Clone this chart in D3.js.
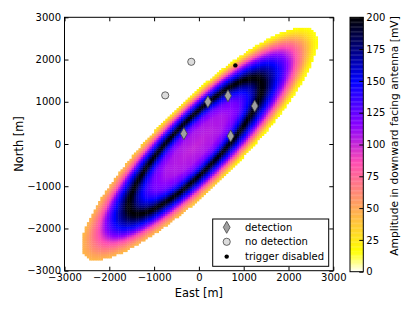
<!DOCTYPE html>
<html>
<head>
<meta charset="utf-8">
<script src="https://cdn.jsdelivr.net/npm/d3@7"></script>
<style>
  body { margin: 0; background: #fff; }
  svg text { font-family: "DejaVu Sans", sans-serif; fill: #000; }
</style>
</head>
<body>
<div id="chart"></div>
<script>
// marker positions [m]
var detectionEast = [-336, 201, 649, 1246, 709];
var detectionNorth = [244, 1000, 1142, 898, 189];
var noDetectionEast = [-170, -752];
var noDetectionNorth = [1946, 1151];
var disabledEast = [814];
var disabledNorth = [1861];

// footprint geometry: center [m], semi axes [m], angle [deg]
var ringCenter = [-80, -45];
var ringAxes = [2110, 545];
var ringAngle = [47.7];
var edgeCenter = [10, 10];
var edgeAxes = [3690, 940];
var edgeAngle = [46.5];

// amplitude profiles [mV]: inside ring (0 = center, 1 = ring), outside ring (0 = ring, 1 = edge)
var innerPos = [0, 0.45, 0.65, 0.78, 0.88, 0.95, 1];
var innerAmp = [101, 108, 122, 145, 170, 192, 200];
var outerPos = [0, 0.06, 0.18, 0.32, 0.46, 0.6, 0.76, 0.9, 1];
var outerAmpTail = [200, 195, 170, 145, 118, 88, 55, 28, 14];   // towards north-east
var outerAmpHead = [200, 195, 172, 148, 122, 92, 68, 52, 44];   // towards south-west

var axisTicks = [-3000, -2000, -1000, 0, 1000, 2000, 3000];
var colorTicks = [0, 25, 50, 75, 100, 125, 150, 175, 200];
var cellSize = 50;

var width = 415, height = 312;

var svg = d3.select('#chart')
    .append('svg')
    .attr('width', width)
    .attr('height', height);

var x_scale = d3.scaleLinear().domain([-3000, 3000]).range([64.5, 333.3]);
var y_scale = d3.scaleLinear().domain([-3000, 3000]).range([270.7, 17.3]);

// matplotlib gnuplot2, reversed
function gnuplot2_r(t) {
    t = 1 - t;
    var cl = function (v) { return Math.max(0, Math.min(1, v)); };
    var r = cl(t / 0.32 - 0.78125);
    var g = cl(2 * t - 0.84);
    var b = t < 0.25 ? 4 * t : (t < 0.92 ? -2 * t + 1.84 : t / 0.08 - 11.5);
    b = cl(b);
    return d3.rgb(r * 255, g * 255, b * 255).toString();
}
var colour_scale = d3.scaleSequential(gnuplot2_r).domain([0, 200]);

var innerProfile = d3.scaleLinear().domain(innerPos).range(innerAmp).clamp(true);
var tailProfile = d3.scaleLinear().domain(outerPos).range(outerAmpTail).clamp(true);
var headProfile = d3.scaleLinear().domain(outerPos).range(outerAmpHead).clamp(true);

// build the cell grid
var rc = Math.cos(ringAngle[0] * Math.PI / 180), rs = Math.sin(ringAngle[0] * Math.PI / 180);
var ec = Math.cos(edgeAngle[0] * Math.PI / 180), es = Math.sin(edgeAngle[0] * Math.PI / 180);
var cells = [];
d3.range(-3000, 3000, cellSize).forEach(function (x0) {
    d3.range(-3000, 3000, cellSize).forEach(function (y0) {
        var px = x0 + cellSize / 2, py = y0 + cellSize / 2;
        // inside the footprint edge?
        var qx = px - edgeCenter[0], qy = py - edgeCenter[1];
        var qa = qx * ec + qy * es, qp = -qx * es + qy * ec;
        if ((qa * qa) / (edgeAxes[0] * edgeAxes[0]) + (qp * qp) / (edgeAxes[1] * edgeAxes[1]) > 1) return;

        var dx = px - ringCenter[0], dy = py - ringCenter[1];
        var r = Math.sqrt(dx * dx + dy * dy) || 1e-6;
        var ux = dx / r, uy = dy / r;
        var ua = ux * rc + uy * rs, up = -ux * rs + uy * rc;
        var ringR = 1 / Math.sqrt((ua * ua) / (ringAxes[0] * ringAxes[0]) + (up * up) / (ringAxes[1] * ringAxes[1]));
        var amp;
        if (r <= ringR) {
            amp = innerProfile(r / ringR);
        } else {
            // distance from ring center to edge along this direction
            var ox = ringCenter[0] - edgeCenter[0], oy = ringCenter[1] - edgeCenter[1];
            var oa = ox * ec + oy * es, op = -ox * es + oy * ec;
            var da = ux * ec + uy * es, dp = -ux * es + uy * ec;
            var A2 = edgeAxes[0] * edgeAxes[0], B2 = edgeAxes[1] * edgeAxes[1];
            var qA = da * da / A2 + dp * dp / B2;
            var qB = 2 * (oa * da / A2 + op * dp / B2);
            var qC = oa * oa / A2 + op * op / B2 - 1;
            var edgeR = (-qB + Math.sqrt(qB * qB - 4 * qA * qC)) / (2 * qA);
            var s = (r - ringR) / Math.max(edgeR - ringR, 1);
            var wHead = Math.pow((1 - ua) / 2, 2);
            amp = wHead * headProfile(s) + (1 - wHead) * tailProfile(s);
        }
        cells.push({ x: x0, y: y0, value: amp });
    });
});

var field = svg.append('g');
field.selectAll('rect')
    .data(cells)
    .enter()
    .append('rect')
    .attr('x', function (d) { return x_scale(d.x); })
    .attr('y', function (d) { return y_scale(d.y + cellSize); })
    .attr('width', x_scale(cellSize) - x_scale(0) + 0.4)
    .attr('height', y_scale(0) - y_scale(cellSize) + 0.4)
    .attr('fill', function (d) { return colour_scale(d.value); });

// markers
var detections = detectionEast.map(function (e, i) { return [e, detectionNorth[i]]; });
var noDetections = noDetectionEast.map(function (e, i) { return [e, noDetectionNorth[i]]; });
var disabled = disabledEast.map(function (e, i) { return [e, disabledNorth[i]]; });

function diamond(g) {
    g.attr('d', 'M0,-6L3.4,0L0,6L-3.4,0Z')
        .attr('fill', '#a0a0a0')
        .attr('stroke', '#444')
        .attr('stroke-width', 0.8);
}

svg.selectAll('.det')
    .data(detections)
    .enter()
    .append('path')
    .attr('class', 'det')
    .attr('transform', function (d) { return 'translate(' + x_scale(d[0]) + ',' + y_scale(d[1]) + ')'; })
    .call(diamond);

svg.selectAll('.nodet')
    .data(noDetections)
    .enter()
    .append('circle')
    .attr('class', 'nodet')
    .attr('cx', function (d) { return x_scale(d[0]); })
    .attr('cy', function (d) { return y_scale(d[1]); })
    .attr('r', 3.6)
    .attr('fill', '#dcdcdc')
    .attr('stroke', '#444')
    .attr('stroke-width', 0.8);

svg.selectAll('.dis')
    .data(disabled)
    .enter()
    .append('circle')
    .attr('class', 'dis')
    .attr('cx', function (d) { return x_scale(d[0]); })
    .attr('cy', function (d) { return y_scale(d[1]); })
    .attr('r', 2.2)
    .attr('fill', '#000');

// axes, ticks pointing inwards on all four sides
function styleAxis(g) {
    g.select('.domain').remove();
    g.selectAll('line').attr('stroke', '#000');
    g.selectAll('text').style('font-family', '"DejaVu Sans", sans-serif').attr('font-size', 10);
}
var fmt = d3.format('');
svg.append('g')
    .attr('transform', 'translate(0,' + y_scale(-3000) + ')')
    .call(d3.axisBottom(x_scale).tickValues(axisTicks).tickSize(-4).tickPadding(3.5).tickFormat(fmt))
    .call(styleAxis);
svg.append('g')
    .attr('transform', 'translate(0,' + y_scale(3000) + ')')
    .call(d3.axisTop(x_scale).tickValues(axisTicks).tickSize(-4).tickFormat(''))
    .call(styleAxis);
svg.append('g')
    .attr('transform', 'translate(' + x_scale(-3000) + ',0)')
    .call(d3.axisLeft(y_scale).tickValues(axisTicks).tickSize(-4).tickPadding(3.5).tickFormat(fmt))
    .call(styleAxis);
svg.append('g')
    .attr('transform', 'translate(' + x_scale(3000) + ',0)')
    .call(d3.axisRight(y_scale).tickValues(axisTicks).tickSize(-4).tickFormat(''))
    .call(styleAxis);

svg.append('rect')
    .attr('x', x_scale(-3000))
    .attr('y', y_scale(3000))
    .attr('width', x_scale(3000) - x_scale(-3000))
    .attr('height', y_scale(-3000) - y_scale(3000))
    .attr('fill', 'none')
    .attr('stroke', '#000')
    .attr('stroke-width', 1);

svg.append('text')
    .attr('x', x_scale(0))
    .attr('y', 296.5)
    .attr('text-anchor', 'middle')
    .attr('font-size', 11.4)
    .text('East [m]');

svg.append('text')
    .attr('transform', 'translate(22.5,' + y_scale(0) + ') rotate(-90)')
    .attr('text-anchor', 'middle')
    .attr('font-size', 11.4)
    .text('North [m]');

// legend
var legend = svg.append('g');
legend.append('rect')
    .attr('x', 212.7).attr('y', 219)
    .attr('width', 116).attr('height', 47.3)
    .attr('fill', '#fff')
    .attr('stroke', '#000')
    .attr('stroke-width', 1);
var legendItems = ['detection', 'no detection', 'trigger disabled'];
var legendY = [227.3, 241.8, 256.6];
legend.append('path')
    .attr('transform', 'translate(226.7,' + legendY[0] + ')')
    .call(diamond);
legend.append('circle')
    .attr('cx', 226.7).attr('cy', legendY[1]).attr('r', 3.6)
    .attr('fill', '#dcdcdc').attr('stroke', '#444').attr('stroke-width', 0.8);
legend.append('circle')
    .attr('cx', 226.7).attr('cy', legendY[2]).attr('r', 2.2)
    .attr('fill', '#000');
legend.selectAll('.ltext')
    .data(legendItems)
    .enter()
    .append('text')
    .attr('class', 'ltext')
    .attr('x', 245)
    .attr('y', function (d, i) { return legendY[i]; })
    .attr('dy', '0.36em')
    .attr('font-size', 10)
    .text(function (d) { return d; });

// colorbar
var cb_scale = d3.scaleLinear().domain([0, 200]).range([271.7, 17.3]);
var cbX = 350, cbW = 13.3;
var cbSteps = d3.range(0, 200, 1);
svg.append('g')
    .selectAll('rect')
    .data(cbSteps)
    .enter()
    .append('rect')
    .attr('x', cbX)
    .attr('width', cbW)
    .attr('y', function (d) { return cb_scale(d + 1); })
    .attr('height', function (d) { return cb_scale(d) - cb_scale(d + 1) + 0.3; })
    .attr('fill', function (d) { return colour_scale(d + 0.5); });
svg.append('rect')
    .attr('x', cbX).attr('y', cb_scale(200))
    .attr('width', cbW).attr('height', cb_scale(0) - cb_scale(200))
    .attr('fill', 'none').attr('stroke', '#000').attr('stroke-width', 1);
svg.append('g')
    .attr('transform', 'translate(' + (cbX + cbW) + ',0)')
    .call(d3.axisRight(cb_scale).tickValues(colorTicks).tickSize(-4).tickPadding(3).tickFormat(fmt))
    .call(styleAxis);

svg.append('text')
    .attr('transform', 'translate(398,136) rotate(-90)')
    .attr('text-anchor', 'middle')
    .attr('font-size', 10.7)
    .text('Amplitude in downward facing antenna [mV]');
</script>
</body>
</html>
